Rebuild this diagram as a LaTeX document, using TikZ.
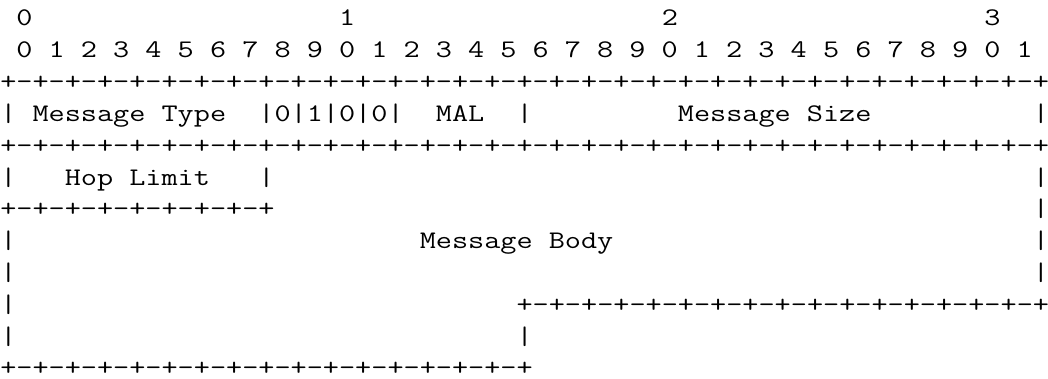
\documentclass[tikz,border=0pt]{standalone}
\usepackage{graphicx}
\usepackage{tikz}

% blank columns are phantom glyphs, so they are exactly one column wide
\newcommand{\gapcols}[1]{\foreach \i in {1,...,#1}{\phantom{+}}}
\newcommand{\rulecols}[1]{+\foreach \i in {1,...,#1}{-+}}
\newcommand{\stretchrow}[1]{\scalebox{1.2367}[1]{#1}}

\begin{document}
\begin{tikzpicture}[x=0.75pt, y=-0.75pt]
	\tikzstyle{asciirow} = [anchor=base west, inner sep=0pt, font=\ttfamily\fontsize{19pt}{19pt}\selectfont];

	\useasboundingbox[fill=white] (0,0) rectangle (1048,378);

	\node[asciirow] at (0,26) (bitstens) {\stretchrow{\gapcols{1}0\gapcols{19}1\gapcols{19}2\gapcols{19}3}};
	\node[asciirow] at (0,57.8) (bitsunits) {\stretchrow{\gapcols{1}0 1 2 3 4 5 6 7 8 9 0 1 2 3 4 5 6 7 8 9 0 1 2 3 4 5 6 7 8 9 0 1}};
	\node[asciirow] at (0,89.6) (ruletop) {\stretchrow{\rulecols{32}}};
	\node[asciirow] at (0,121.4) (rowtype) {\stretchrow{|\gapcols{1}Message Type\gapcols{2}|0|1|0|0|\gapcols{2}MAL\gapcols{2}|\gapcols{9}Message Size\gapcols{10}|}};
	\node[asciirow] at (0,153.2) (rulesize) {\stretchrow{\rulecols{32}}};
	\node[asciirow] at (0,185) (rowhop) {\stretchrow{|\gapcols{3}Hop Limit\gapcols{3}|\gapcols{47}|}};
	\node[asciirow] at (0,216.8) (rulehop) {\stretchrow{\rulecols{8}\gapcols{47}|}};
	\node[asciirow] at (0,248.6) (rowbody) {\stretchrow{|\gapcols{25}Message Body\gapcols{26}|}};
	\node[asciirow] at (0,280.4) (rowblank) {\stretchrow{|\gapcols{63}|}};
	\node[asciirow] at (0,312.2) (rulebody) {\stretchrow{|\gapcols{31}\rulecols{16}}};
	\node[asciirow] at (0,344) (rowtail) {\stretchrow{|\gapcols{31}|}};
	\node[asciirow] at (0,375.8) (rulebottom) {\stretchrow{\rulecols{16}}};
\end{tikzpicture}
\end{document}
